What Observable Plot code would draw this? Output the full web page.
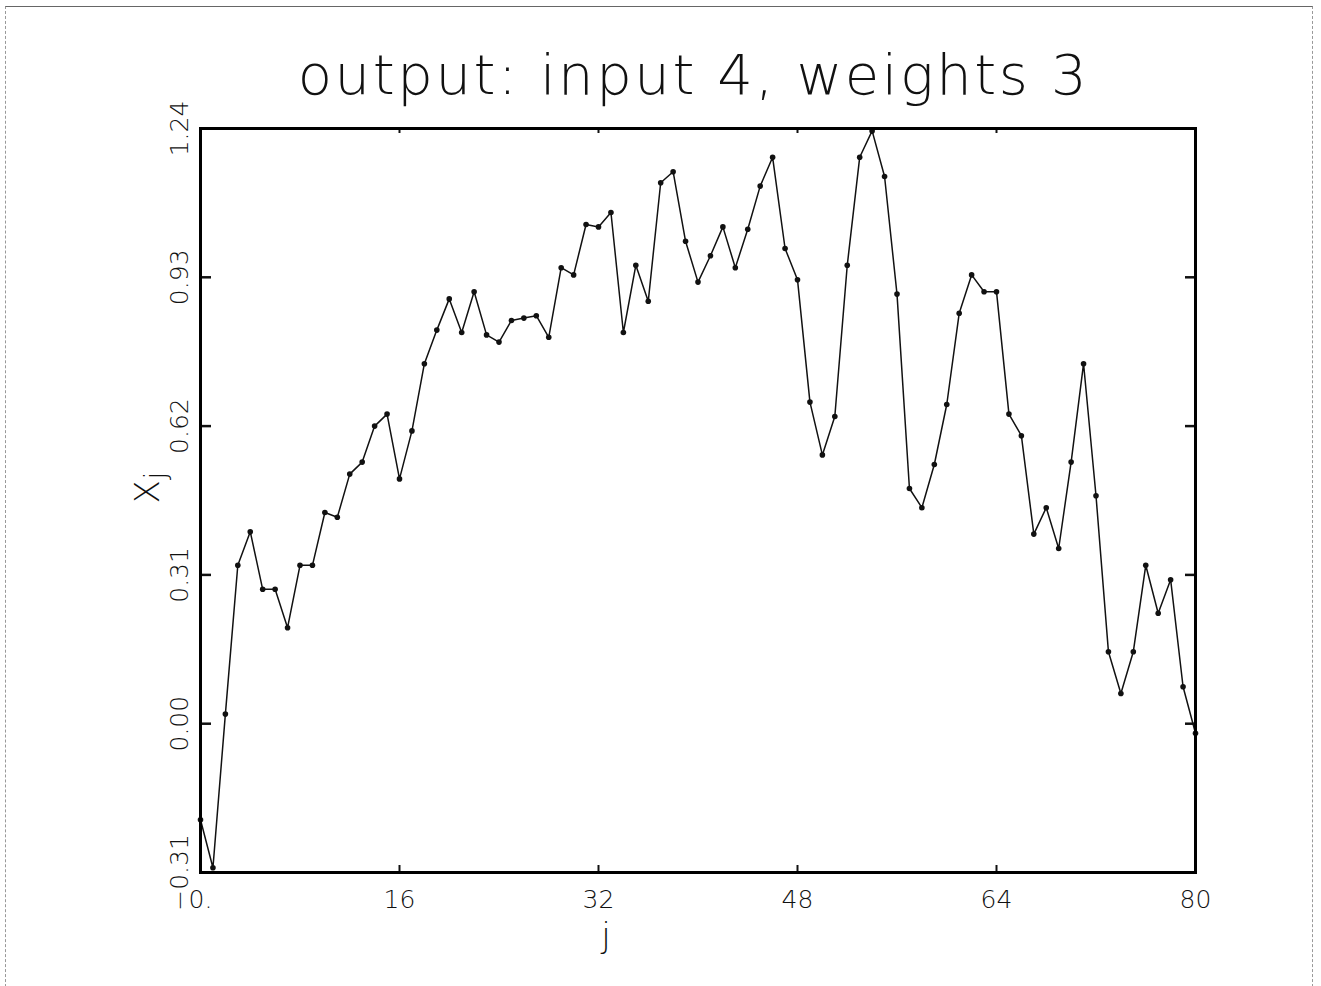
<!DOCTYPE html>
<html>
<head>
<meta charset="utf-8">
<script src="https://cdn.jsdelivr.net/npm/d3@7"></script>
<script src="https://cdn.jsdelivr.net/npm/@observablehq/plot@0.6"></script>
<style>
  body { margin: 0; background: #fff; }
  #wrap { position: relative; width: 1321px; height: 986px; overflow: hidden; background: #fff; }
  #border { position: absolute; left: 5px; top: 6px; width: 1306px; height: 1000px; z-index: 2; pointer-events: none;
            border-top: 1.5px solid #666; border-left: 1px dashed #999; border-right: 1px dashed #999; }
  #title { position: absolute; left: 33px; width: 1321px; top: 47px; text-align: center; z-index: 3;
           font-family: "DejaVu Sans", sans-serif; font-weight: 300; font-size: 56px; line-height: 1;
           letter-spacing: 2.6px; color: #111; }
  #chart svg { display: block; }
</style>
</head>
<body>
<div id="wrap">
  <div id="border"></div>
  <div id="chart"></div>
  <div id="title"></div>
</div>
<script>
// index j
const jValues = d3.range(0, 81);
// X_j values
const xjValues = [
  -0.20, -0.30, 0.02, 0.33, 0.40, 0.28, 0.28, 0.20, 0.33, 0.33,
   0.44, 0.43, 0.52, 0.545, 0.62, 0.645, 0.51, 0.61, 0.75, 0.82,
   0.885, 0.815, 0.90, 0.81, 0.795, 0.84, 0.845, 0.85, 0.805, 0.95,
   0.935, 1.04, 1.035, 1.065, 0.815, 0.955, 0.88, 1.127, 1.15, 1.005,
   0.92, 0.975, 1.035, 0.95, 1.03, 1.12, 1.18, 0.99, 0.925, 0.67,
   0.56, 0.64, 0.955, 1.18, 1.235, 1.14, 0.895, 0.49, 0.45, 0.54,
   0.665, 0.855, 0.935, 0.90, 0.90, 0.645, 0.60, 0.395, 0.45, 0.365,
   0.545, 0.75, 0.475, 0.15, 0.063, 0.15, 0.33, 0.23, 0.30, 0.077,
  -0.02
];
const xTickValues = [0, 16, 32, 48, 64, 80];
const xTickLabels = ["0.", "16", "32", "48", "64", "80"];
const yTickValues = [-0.31, 0, 0.31, 0.62, 0.93, 1.24];
const yTickLabels = ["\u22120.31", "0.00", "0.31", "0.62", "0.93", "1.24"];
const titleText = "output: input 4, weights 3";
const xLabel = "j";
const yLabelMain = "X";
const yLabelSub = "j";

document.getElementById("title").textContent = titleText;

const data = jValues.map((j, i) => ({j, v: xjValues[i]}));
const font = "DejaVu Sans";

const chart = Plot.plot({
  width: 1321,
  height: 986,
  marginLeft: 200,
  marginRight: 126,
  marginTop: 128,
  marginBottom: 114,
  x: {domain: [0, 80]},
  y: {domain: [-0.31, 1.24]},
  style: {fontFamily: font, background: "white", color: "#111"},
  marks: [
    Plot.axisX(xTickValues, {anchor: "bottom", tickSize: -7, strokeWidth: 2, tickFormat: () => "", label: null}),
    Plot.axisX(xTickValues.slice(1, -1), {anchor: "top", tickSize: -4, strokeWidth: 2, tickFormat: () => "", label: null}),
    Plot.axisY(yTickValues, {anchor: "left", tickSize: -11, strokeWidth: 2.5, tickFormat: () => "", label: null}),
    Plot.axisY(yTickValues, {anchor: "right", tickSize: -11, strokeWidth: 2.5, tickFormat: () => "", label: null}),
    Plot.line(data, {x: "j", y: "v", stroke: "#111", strokeWidth: 1.5}),
    Plot.dot(data, {x: "j", y: "v", r: 2.8, fill: "#111", stroke: "none"}),
    Plot.frame({stroke: "#000", strokeWidth: 3}),
    Plot.text(xTickValues, {x: d => d, text: (d, i) => xTickLabels[i], frameAnchor: "bottom", dy: 35, fontSize: 25, fontWeight: 300, fill: "#111"}),
    Plot.text(yTickValues, {y: d => d, text: (d, i) => yTickLabels[i], frameAnchor: "left", dx: -21, rotate: -90, fontSize: 25, fontWeight: 300, fill: "#111", textAnchor: "middle"}),
    Plot.text([xLabel], {text: d => d, frameAnchor: "bottom", dx: -92, dy: 74, fontSize: 34, fontWeight: 300, fill: "#111"}),
    Plot.text([yLabelMain], {text: d => d, frameAnchor: "left", dx: -52, dy: 3, rotate: -90, fontSize: 34, fontWeight: 300, fill: "#111"}),
    Plot.text([yLabelSub], {text: d => d, frameAnchor: "left", dx: -44, dy: -21, rotate: -90, fontSize: 28, fontWeight: 300, fill: "#111"})
  ]
});
document.getElementById("chart").appendChild(chart);
</script>
</body>
</html>
